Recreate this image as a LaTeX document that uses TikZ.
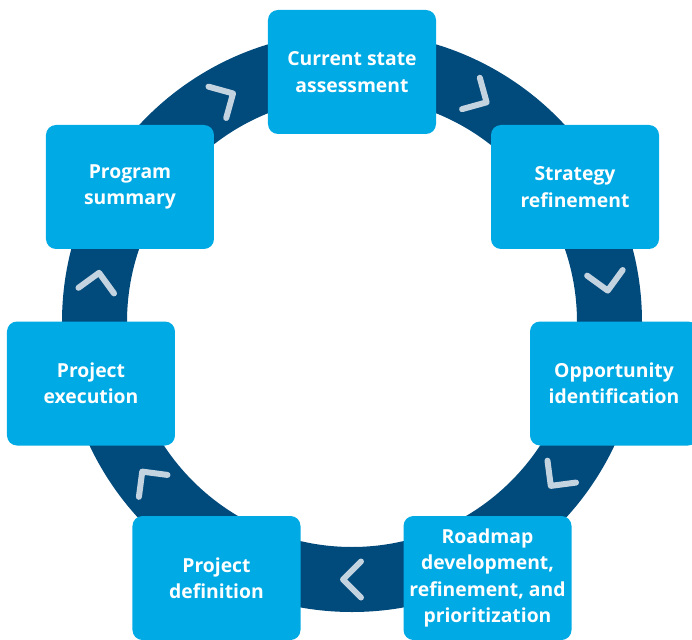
\documentclass[tikz,border=0pt]{standalone}
\usepackage{fontspec}
\setmainfont{Open Sans}
\definecolor{ringblue}{HTML}{004A7C}
\definecolor{boxblue}{HTML}{00AAE4}
\definecolor{chevgray}{HTML}{C3D3E0}
\begin{document}
\begin{tikzpicture}[x=0.75pt,y=0.75pt,line cap=round,line join=round]
\tikzstyle{stage}=[rectangle,fill=boxblue,rounded corners=7.5pt,minimum width=126pt,minimum height=93pt,
  text=white,align=center,font=\bfseries\fontsize{14.5}{19.8}\selectfont]
\tikzstyle{chevron}=[draw=chevgray,line width=4.5pt]

\useasboundingbox (-352,-317) rectangle (340,322);
\clip (-352,-317) rectangle (340,322);

% ring
\fill[ringblue,even odd rule] (0,0) circle (290) (0,0) circle (225);

% arrows along the ring (clockwise)
\foreach \a in {119.5,60.5,9,-37.5,-90,-142.5,171}
  \draw[chevron,shift={(\a:257.5)},rotate=\a-90] (-9,18) -- (9,0) -- (-9,-18);

% stages
\node[stage] (current) at (0,250) {Current state\\assessment};
\node[stage] (strategy) at (223,135) {Strategy\\refinement};
\node[stage] (opportunity) at (262,-61.5) {Opportunity\\identification};
\node[stage] (roadmap) at (135.5,-256) {Roadmap\\development,\\refinement, and\\prioritization};
\node[stage] (definition) at (-135.5,-256) {Project\\definition};
\node[stage] (execution) at (-261,-61.5) {Project\\execution};
\node[stage] (summary) at (-222,135) {Program\\summary};
\end{tikzpicture}
\end{document}
